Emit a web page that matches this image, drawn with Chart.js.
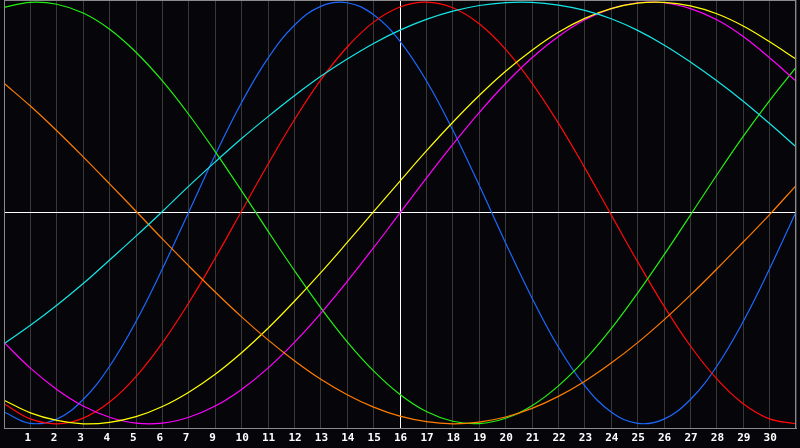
<!DOCTYPE html>
<html>
<head>
<meta charset="utf-8">
<script src="https://cdn.jsdelivr.net/npm/chart.js@4/dist/chart.umd.min.js"></script>
<style>
    html, body { margin: 0; padding: 0; background: #000; }
    #chart { display: block; }
</style>
</head>
<body>
<canvas id="chart" width="800" height="448"></canvas>
<script>
// day labels under each grid line (8 is missing in the original)
var dayLabels = ['', '1', '2', '3', '4', '5', '6', '7', '9', '10', '11', '12', '13', '14', '15', '16',
    '17', '18', '19', '20', '21', '22', '23', '24', '25', '26', '27', '28', '29', '30', ''];
var todayIndex = 15;

// curve values, one per grid line
var physical = [-0.944, -0.998, -0.978, -0.885, -0.727, -0.515, -0.265, 0.005, 0.275, 0.524, 0.734,
    0.890, 0.980, 0.997, 0.940, 0.814, 0.627, 0.393, 0.131, -0.142, -0.403, -0.636, -0.820, -0.944,
    -0.998, -0.978, -0.885, -0.727, -0.515, -0.265, 0.005];
var emotional = [-0.905, -0.977, -1.000, -0.973, -0.897, -0.776, -0.616, -0.426, -0.214, 0.009, 0.231,
    0.442, 0.631, 0.787, 0.905, 0.977, 1.000, 0.973, 0.897, 0.776, 0.616, 0.426, 0.214, -0.009,
    -0.231, -0.442, -0.631, -0.787, -0.905, -0.977, -1.000];
var intellectual = [0.975, 0.999, 0.990, 0.948, 0.871, 0.762, 0.626, 0.467, 0.291, 0.105, -0.086,
    -0.273, -0.450, -0.611, -0.749, -0.861, -0.942, -0.988, -0.999, -0.974, -0.914, -0.820, -0.697,
    -0.549, -0.380, -0.199, -0.010, 0.180, 0.363, 0.533, 0.690];
var intuitive = [-0.614, -0.736, -0.837, -0.916, -0.969, -0.997, -0.997, -0.969, -0.916, -0.837, -0.736,
    -0.614, -0.476, -0.325, -0.165, 0.000, 0.165, 0.325, 0.476, 0.614, 0.736, 0.837, 0.916, 0.969,
    0.997, 0.997, 0.969, 0.916, 0.837, 0.736, 0.625];
var aesthetic = [-0.888, -0.948, -0.984, -1.000, -0.993, -0.966, -0.918, -0.850, -0.765, -0.663, -0.547,
    -0.419, -0.283, -0.140, 0.006, 0.151, 0.294, 0.430, 0.557, 0.672, 0.772, 0.857, 0.923, 0.969,
    0.995, 0.999, 0.982, 0.945, 0.887, 0.812, 0.730];
var awareness = [0.615, 0.507, 0.390, 0.266, 0.138, 0.008, -0.123, -0.251, -0.375, -0.493, -0.602,
    -0.701, -0.789, -0.862, -0.921, -0.964, -0.990, -1.000, -0.992, -0.968, -0.927, -0.870, -0.798,
    -0.712, -0.615, -0.507, -0.390, -0.266, -0.138, -0.008, 0.130];
var spiritual = [-0.620, -0.533, -0.438, -0.335, -0.223, -0.110, 0.007, 0.127, 0.242, 0.353, 0.457,
    0.556, 0.648, 0.730, 0.804, 0.867, 0.918, 0.957, 0.984, 0.998, 0.999, 0.986, 0.961, 0.921,
    0.866, 0.797, 0.716, 0.627, 0.530, 0.424, 0.314];

var seriesNames = ['spiritual', 'awareness', 'aesthetic', 'intuitive', 'intellectual', 'emotional', 'physical'];
var seriesValues = [spiritual, awareness, aesthetic, intuitive, intellectual, emotional, physical];
var seriesColors = ['#14e6e6', '#ff7c00', '#ffff00', '#ff00ff', '#22f010', '#ff0a0a', '#1c68ff'];

var frame = {
    id: 'frame',
    afterDraw(chart) {
        var ctx = chart.ctx;
        var a = chart.chartArea;
        ctx.save();
        ctx.strokeStyle = '#8a8a8a';
        ctx.lineWidth = 1;
        ctx.strokeRect(a.left + 0.5, a.top + 0.5, a.right - a.left - 1, a.bottom - a.top);
        ctx.restore();
    }
};

var datasets = [];
for (var i = 0; i < seriesValues.length; i++) {
    datasets.push({
        label: seriesNames[i],
        data: seriesValues[i],
        borderColor: seriesColors[i],
        borderWidth: 1.2,
        pointRadius: 0,
        tension: 0.4,
        fill: false
    });
}

var chart = new Chart(document.getElementById('chart'), {
    type: 'line',
    data: { labels: dayLabels, datasets: datasets },
    options: {
        responsive: false,
        devicePixelRatio: 1,
        animation: false,
        layout: { padding: 0 },
        plugins: { legend: { display: false }, tooltip: { enabled: false } },
        scales: {
            x: {
                offset: false,
                grid: {
                    color: function (c) { return c.index === todayIndex ? '#ffffff' : '#383838'; },
                    lineWidth: 1,
                    drawTicks: false
                },
                border: { color: '#8a8a8a' },
                ticks: {
                    color: '#ffffff',
                    font: { family: "'DejaVu Sans Mono', monospace", size: 11, weight: 'bold' },
                    autoSkip: false,
                    maxRotation: 0,
                    align: 'start',
                    labelOffset: -6,
                    padding: 4
                },
                afterFit: function (s) { s.height = 20; }
            },
            y: {
                min: -1.02,
                max: 1.01,
                ticks: { display: false },
                afterBuildTicks: function (s) { s.ticks = [{ value: 0 }]; },
                grid: { color: '#ffffff', lineWidth: 1, drawTicks: false },
                border: { display: false },
                afterFit: function (s) { s.width = 0; }
            }
        }
    },
    plugins: [frame]
});
chart.canvas.style.background = '#060509';
</script>
</body>
</html>
